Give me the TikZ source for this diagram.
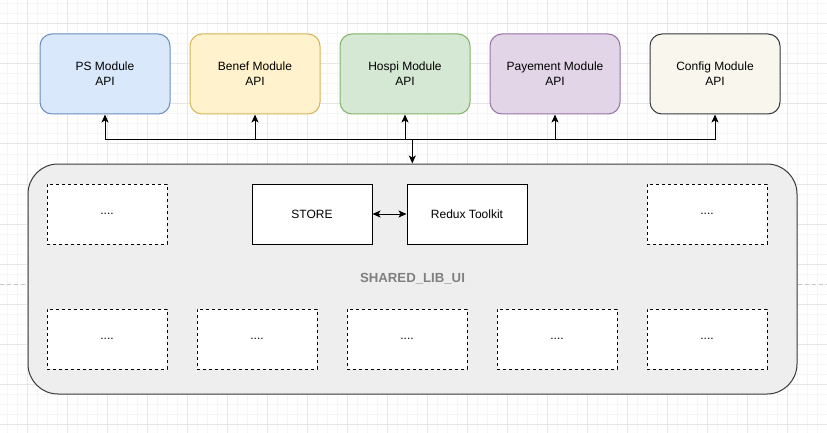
\documentclass[tikz,border=0pt]{standalone}
\usepackage{fontspec}
\setmainfont{Liberation Sans}
\usetikzlibrary{arrows.meta}
\definecolor{gridminor}{HTML}{F5F5F5}
\definecolor{gridmajor}{HTML}{E6E6E6}
\definecolor{psfill}{HTML}{DAE8FC}\definecolor{psdraw}{HTML}{6C8EBF}
\definecolor{befill}{HTML}{FFF2CC}\definecolor{bedraw}{HTML}{D6B656}
\definecolor{hofill}{HTML}{D5E8D4}\definecolor{hodraw}{HTML}{82B366}
\definecolor{pafill}{HTML}{E1D5E7}\definecolor{padraw}{HTML}{9673A6}
\definecolor{cofill}{HTML}{F9F7ED}\definecolor{codraw}{HTML}{36393D}
\definecolor{shfill}{HTML}{EEEEEE}\definecolor{shdraw}{HTML}{36393D}
\definecolor{labelgray}{HTML}{808080}
\begin{document}
\begin{tikzpicture}[x=1pt,y=-1pt,
  txt/.style={font=\fontsize{12}{15}\selectfont, align=center},
  modbox/.style={txt, rounded corners=12pt, line width=1pt, minimum width=130pt, minimum height=80pt, inner sep=0pt},
  innerbox/.style={txt, draw=black, fill=white, line width=1pt, minimum width=120pt, minimum height=60pt, inner sep=0pt},
  dashbox/.style={innerbox, dash pattern=on 3pt off 3pt},
  arr/.style={line width=1pt, -{Stealth[length=8pt,width=7pt,inset=2pt]}},
  darr/.style={line width=1pt, {Stealth[length=8pt,width=7pt,inset=2pt]}-{Stealth[length=8pt,width=7pt,inset=2pt]}}
]
\useasboundingbox (0,0) rectangle (827,433);
\fill[white] (0,0) rectangle (827,433);
% grid
\foreach \x in {7,17,...,827} \draw[gridminor, line width=1pt] (\x,0) -- (\x,433);
\foreach \y in {4,14,...,433} \draw[gridminor, line width=1pt] (0,\y) -- (827,\y);
\foreach \x in {27,67,...,827} \draw[gridmajor, line width=1pt] (\x,0) -- (\x,433);
\foreach \y in {24,64,...,433} \draw[gridmajor, line width=1pt] (0,\y) -- (827,\y);
\draw[gridmajor!70!gray, line width=1pt, dash pattern=on 4pt off 3pt] (0,284) -- (827,284);

% modules
\node[modbox, fill=psfill, draw=psdraw] (ps) at (105,74) {PS Module\\API};
\node[modbox, fill=befill, draw=bedraw] (benef) at (255,74) {Benef Module\\API};
\node[modbox, fill=hofill, draw=hodraw] (hospi) at (405,74) {Hospi Module\\API};
\node[modbox, fill=pafill, draw=padraw] (pay) at (555,74) {Payement Module\\API};
\node[modbox, fill=cofill, draw=codraw] (config) at (715,74) {Config Module\\API};

% container
\node[txt, fill=shfill, draw=shdraw, line width=1pt, rounded corners=30pt, minimum width=769pt, minimum height=230pt, inner sep=0pt, text=labelgray, font=\fontsize{13.2}{15}\selectfont\bfseries] (shared) at (412.5,279) {SHARED\_LIB\_UI};

% inner boxes
\node[dashbox] (d1) at (107,214) {....};
\node[dashbox] (d2) at (707,214) {....};
\node[innerbox] (store) at (312,214) {STORE};
\node[innerbox] (redux) at (467,214) {Redux Toolkit};
\node[dashbox] (b1) at (107,339) {....};
\node[dashbox] (b2) at (257,339) {....};
\node[dashbox] (b3) at (407,339) {....};
\node[dashbox] (b4) at (557,339) {....};
\node[dashbox] (b5) at (707,339) {....};

% connectors
\coordinate (hub) at (412.3,139.5);
\draw[arr] (hub) -| (ps.south);
\draw[arr] (hub) -| (benef.south);
\draw[arr] (hub) -| (hospi.south);
\draw[arr] (hub) -| (pay.south);
\draw[arr] (hub) -| (config.south);
\draw[arr] (hub) -- (hub |- shared.north);
\draw[darr] (store) -- (redux);
\end{tikzpicture}
\end{document}
